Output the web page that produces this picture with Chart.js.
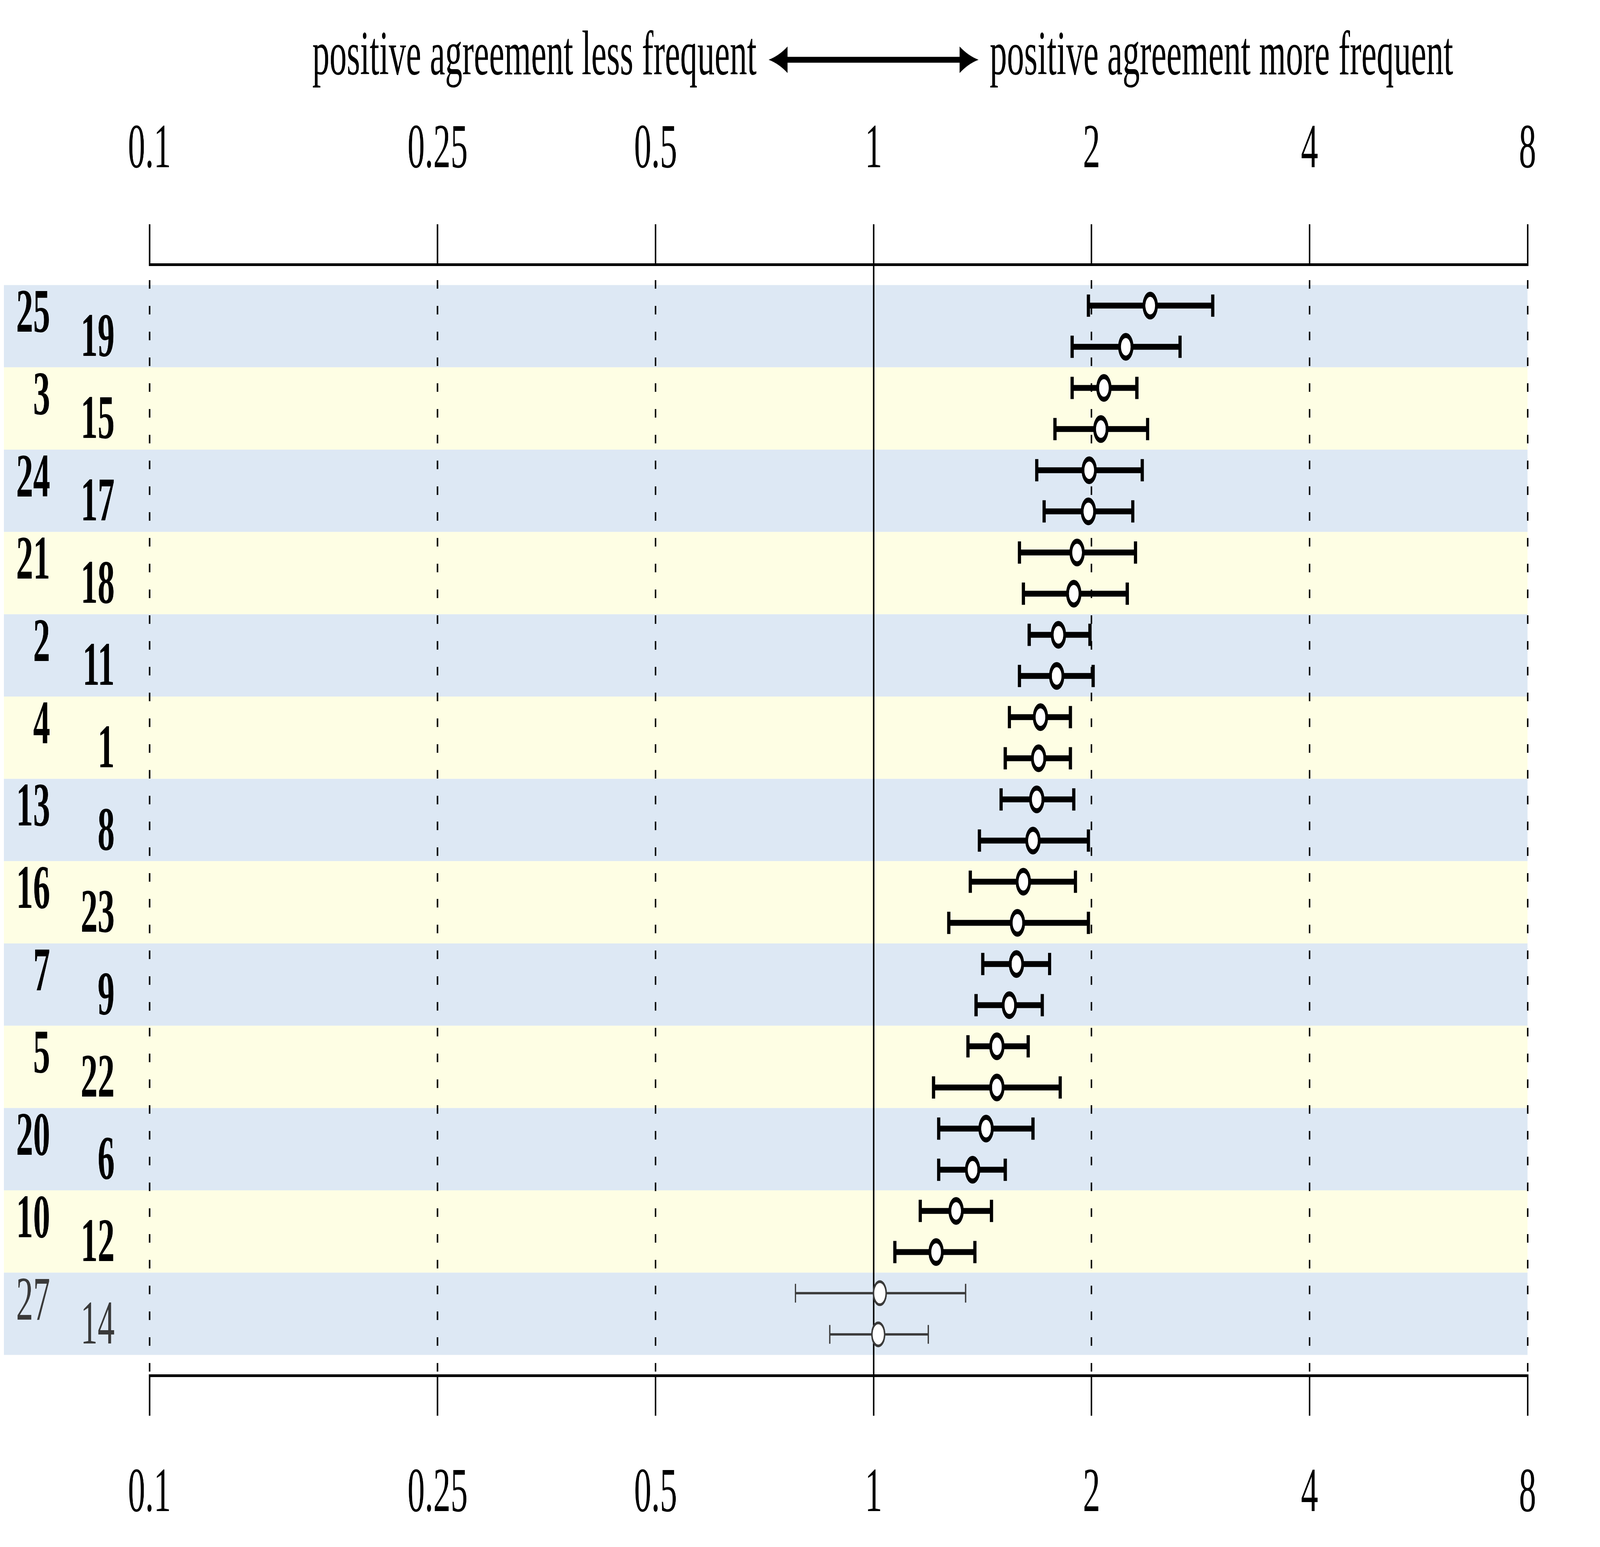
<!DOCTYPE html>
<html><head><meta charset="utf-8">
<script src="https://cdn.jsdelivr.net/npm/chart.js@4.4.1/dist/chart.umd.min.js"></script>
<style>html,body{margin:0;padding:0;background:#fff;overflow:hidden;}canvas{display:block;}</style>
</head><body>
<canvas id="c" width="7440" height="3960" style="width:100vw;height:100vh;"></canvas>
<script>
// ---- data ----
const items = ['25','19','3','15','24','17','21','18','2','11','4','1','13','8','16','23','7','9','5','22','20','6','10','12','27','14'];
const estimates = [2.41,2.23,2.08,2.06,1.985,1.98,1.91,1.89,1.80,1.79,1.70,1.69,1.68,1.66,1.61,1.58,1.575,1.54,1.48,1.48,1.43,1.37,1.30,1.22,1.02,1.015];
const lowerCI   = [1.98,1.88,1.88,1.78,1.68,1.72,1.59,1.61,1.64,1.59,1.54,1.52,1.50,1.40,1.36,1.27,1.415,1.385,1.35,1.21,1.23,1.23,1.16,1.07,0.78,0.87];
const upperCI   = [2.94,2.65,2.31,2.39,2.35,2.28,2.30,2.24,1.99,2.01,1.87,1.87,1.89,1.98,1.90,1.98,1.75,1.71,1.635,1.81,1.66,1.52,1.455,1.38,1.34,1.19];
const greyItems = ['27','14'];
const tickValues = [0.1,0.25,0.5,1,2,4,8];
const tickLabels = ['0.1','0.25','0.5','1','2','4','8'];
const titleLeft = 'positive agreement less frequent';
const titleRight = 'positive agreement more frequent';

// ---- style ----
const BLACK = '#000000', GREY = '#3a3a3a';
const BLUE = '#dde8f4', YELLOW = '#fefee4';
const FONT = 'Liberation Serif';
const isGrey = i => greyItems.includes(items[i]);

const pointDataset = {
  label: 'estimate',
  data: items.map((id, i) => ({x: estimates[i], y: i})),
  pointRadius: items.map((id, i) => isGrey(i) ? 29.5 : 29),
  pointBorderWidth: items.map((id, i) => isGrey(i) ? 7 : 13),
  pointBorderColor: items.map((id, i) => isGrey(i) ? GREY : BLACK),
  pointBackgroundColor: '#ffffff',
  showLine: false,
  order: 0
};
const ciDatasets = items.map((id, i) => {
  const g = isGrey(i);
  const col = g ? GREY : BLACK;
  return {
    label: 'CI ' + id,
    data: [{x: lowerCI[i], y: i}, {x: upperCI[i], y: i}],
    showLine: true,
    borderColor: col,
    borderWidth: g ? 6 : 15,
    pointStyle: 'line',
    rotation: 90,
    pointRadius: g ? 24 : 28.5,
    pointBorderWidth: g ? 6 : 15,
    pointBorderColor: col,
    pointBackgroundColor: col,
    order: 1
  };
});

const setTicks = s => { s.ticks = tickValues.map(v => ({value: v})); };
const tickCb = v => { const k = tickValues.indexOf(v); return k >= 0 ? tickLabels[k] : ''; };

function arrowHead(ctx, tip, dir, ay, hl, hh) {
  // concave-sided arrow head pointing in direction dir (-1 left, +1 right)
  const back = tip - dir * hl;
  const cxp = tip - dir * hl * 0.55;
  ctx.moveTo(tip, ay);
  ctx.quadraticCurveTo(cxp, ay - hh * 0.3, back, ay - hh);
  ctx.lineTo(back, ay + hh);
  ctx.quadraticCurveTo(cxp, ay + hh * 0.3, tip, ay);
  ctx.closePath();
}

const decorPlugin = {
  id: 'decor',
  beforeDraw(chart) {
    const {ctx} = chart;
    const ys = chart.scales.y, xs = chart.scales.x;
    const right = xs.getPixelForValue(tickValues[tickValues.length - 1]);
    ctx.save();
    for (let k = 0; k < items.length / 2; k++) {
      const top = ys.getPixelForValue(2 * k - 0.5);
      const bot = ys.getPixelForValue(2 * k + 1.5);
      ctx.fillStyle = k % 2 === 0 ? BLUE : YELLOW;
      ctx.fillRect(18, top, right - 18, bot - top);
    }
    ctx.restore();
  },
  afterDraw(chart) {
    const {ctx} = chart;
    const ys = chart.scales.y, xs = chart.scales.x;
    ctx.save();
    // row labels
    ctx.textBaseline = 'middle';
    ctx.textAlign = 'right';
    for (let i = 0; i < items.length; i++) {
      const g = isGrey(i);
      ctx.font = (g ? '' : 'bold ') + '158px "' + FONT + '"';
      ctx.fillStyle = g ? GREY : BLACK;
      if (i % 2 === 0) {
        ctx.fillText(items[i], 233, ys.getPixelForValue(i + 0.25));
      } else {
        ctx.fillText(items[i], 533, ys.getPixelForValue(i - 0.17));
      }
    }
    // header with double arrow, centred on the value 1
    const cx = xs.getPixelForValue(1);
    ctx.fillStyle = BLACK;
    ctx.font = '160px "' + FONT + '"';
    ctx.textBaseline = 'alphabetic';
    ctx.textAlign = 'right';
    ctx.fillText(titleLeft, cx - 544, 190);
    ctx.textAlign = 'left';
    ctx.fillText(titleRight, cx + 540, 190);
    const ay = 153, l = cx - 488, r = cx + 488, hl = 88, hh = 34;
    ctx.strokeStyle = BLACK;
    ctx.lineWidth = 15;
    ctx.beginPath();
    ctx.moveTo(l + hl - 4, ay);
    ctx.lineTo(r - hl + 4, ay);
    ctx.stroke();
    ctx.beginPath();
    arrowHead(ctx, l, -1, ay, hl, hh);
    arrowHead(ctx, r, 1, ay, hl, hh);
    ctx.fill();
    ctx.restore();
  }
};

new Chart(document.getElementById('c'), {
  type: 'scatter',
  data: {datasets: [pointDataset, ...ciDatasets]},
  plugins: [decorPlugin],
  options: {
    responsive: false,
    animation: false,
    devicePixelRatio: 1,
    events: [],
    layout: {padding: {left: 695, right: 337, top: 0, bottom: 0}},
    plugins: {legend: {display: false}, tooltip: {enabled: false}, title: {display: false}},
    scales: {
      x: {
        type: 'logarithmic', position: 'top', min: 0.1, max: 8,
        afterBuildTicks: setTicks,
        afterFit: s => { s.height = 677; },
        ticks: {callback: tickCb, font: {family: FONT, size: 160}, color: BLACK, padding: 92, maxRotation: 0, autoSkip: false},
        grid: {color: BLACK, lineWidth: 7, tickLength: 103, tickWidth: 7, tickColor: BLACK, drawOnChartArea: true},
        border: {display: true, color: BLACK, width: 7,
          dash: c => (c.tick && c.tick.value !== 1) ? [22, 44] : [],
          dashOffset: 30}
      },
      x2: {
        type: 'logarithmic', position: 'bottom', min: 0.1, max: 8,
        afterBuildTicks: setTicks,
        afterFit: s => { s.height = 439; },
        ticks: {callback: tickCb, font: {family: FONT, size: 160}, color: BLACK, padding: 106, maxRotation: 0, autoSkip: false},
        grid: {color: BLACK, lineWidth: 7, tickLength: 103, tickWidth: 7, tickColor: BLACK, drawOnChartArea: false},
        border: {display: true, color: BLACK, width: 7}
      },
      y: {type: 'linear', min: -1, max: 26, reverse: true, display: false}
    }
  }
});
</script>
</body></html>
